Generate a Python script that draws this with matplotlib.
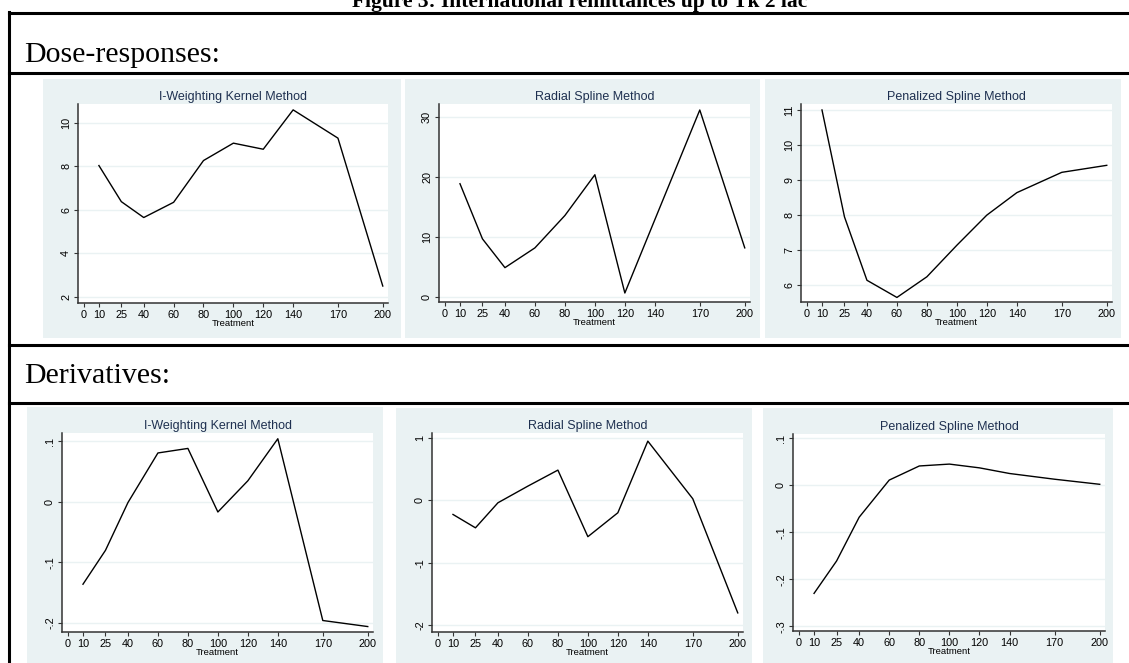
import matplotlib
matplotlib.use("Agg")
import matplotlib.pyplot as plt
from matplotlib.lines import Line2D
from matplotlib.patches import Rectangle
from matplotlib.ticker import FuncFormatter

plt.rcParams["font.family"] = ["Liberation Sans", "DejaVu Sans"]

W, H = 1129, 663

# treatment levels (x axis of every panel)
treatment = [10, 25, 40, 60, 80, 100, 120, 140, 170, 200]
xticks = [0, 10, 25, 40, 60, 80, 100, 120, 140, 170, 200]

# dose-responses
dose_kernel = [8.04, 6.38, 5.65, 6.35, 8.27, 9.07, 8.79, 10.6, 9.30, 2.5]
dose_radial = [18.9, 9.7, 4.9, 8.2, 13.6, 20.4, 0.67, 12.9, 31.2, 8.2]
dose_penal = [11.0, 7.95, 6.14, 5.65, 6.24, 7.14, 8.0, 8.64, 9.22, 9.42]

# derivatives
der_kernel = [-0.136, -0.080, -0.001, 0.081, 0.0885, -0.0166, 0.035, 0.1045, -0.196, -0.206]
der_radial = [-0.224, -0.438, -0.037, 0.23, 0.486, -0.58, -0.197, 0.95, 0.027, -1.80]
der_penal = [-0.23, -0.161, -0.068, 0.011, 0.041, 0.045, 0.037, 0.025, 0.0128, 0.002]

yticks_dk = [2, 4, 6, 8, 10]
yticks_dr = [0, 10, 20, 30]
yticks_dp = [6, 7, 8, 9, 10, 11]
yticks_gk = [-0.2, -0.1, 0, 0.1]
yticks_gr = [-2, -1, 0, 1]
yticks_gp = [-0.3, -0.2, -0.1, 0, 0.1]

titles = ["I-Weighting Kernel Method", "Radial Spline Method", "Penalized Spline Method"]

BG = "#eaf2f3"
TITLE_C = "#1e3050"


def stata_fmt(v, pos):
    # stata style: .1 instead of 0.1
    s = ("%g" % round(v, 4))
    s = s.replace("0.", ".")
    return s


fig = plt.figure(figsize=(W / 100, H / 100), dpi=100)


def fx(x):
    return x / W


def fy(y):
    return 1 - y / H


def hline(y, x0=9, x1=W):
    fig.add_artist(Line2D([fx(x0), fx(x1)], [fy(y), fy(y)], color="black", lw=2.2,
                          transform=fig.transFigure))


def panel(box, plot, ys, yticks, ylim, title):
    # gray graph region
    gx0, gy0, gx1, gy1 = box
    fig.add_artist(Rectangle((fx(gx0), fy(gy1)), fx(gx1 - gx0), (gy1 - gy0) / H,
                             facecolor=BG, edgecolor="none", transform=fig.transFigure,
                             zorder=0))
    x0, y0, x1, y1 = plot
    ax = fig.add_axes([fx(x0), fy(y1), fx(x1 - x0), (y1 - y0) / H])
    ax.set_facecolor("white")
    ax.plot(treatment, ys, color="black", lw=1.0)
    ax.set_xticks(xticks)
    ax.set_yticks(yticks)
    ax.yaxis.set_major_formatter(FuncFormatter(stata_fmt))
    ax.set_xlim(-4, 203.5)
    ax.set_ylim(*ylim)
    ax.grid(axis="y", color=BG, lw=1.0)
    ax.set_axisbelow(True)
    for s in ["top", "right"]:
        ax.spines[s].set_visible(False)
    for s in ["left", "bottom"]:
        ax.spines[s].set_color("#333333")
        ax.spines[s].set_linewidth(1.1)
    ax.tick_params(axis="both", direction="out", length=3, width=0.8, color="#333333",
                   labelsize=7.8, pad=2.0)
    for lab in ax.get_yticklabels():
        lab.set_rotation(90)
        lab.set_va("center")
    ax.set_xlabel("Treatment", fontsize=6.8, labelpad=-1.0)
    ax.set_title(title, fontsize=9, color=TITLE_C, pad=3)
    return ax


# page frame lines
hline(13)
hline(73)
hline(345)
hline(403)
fig.add_artist(Line2D([fx(9), fx(9)], [fy(12), fy(H)], color="black", lw=2.2,
                      transform=fig.transFigure))

fig.text(fx(580), fy(7), "Figure 3: International remittances up to Tk 2 lac",
         ha="center", va="baseline", fontsize=15.5, fontweight="bold",
         family="Liberation Serif")
fig.text(fx(24), fy(62), "Dose-responses:", ha="left", va="baseline",
         fontsize=21.5, family="Liberation Serif")
fig.text(fx(24), fy(383), "Derivatives:", ha="left", va="baseline",
         fontsize=21.5, family="Liberation Serif")

panel((43, 79, 401, 338), (78, 104, 388, 303), dose_kernel, yticks_dk, (1.72, 10.87), titles[0])
panel((405, 79, 760, 338), (439, 104, 750, 302), dose_radial, yticks_dr, (-0.83, 32.2), titles[1])
panel((765, 79, 1121, 338), (801, 104, 1112, 302), dose_penal, yticks_dp, (5.52, 11.17), titles[2])

panel((27, 407, 383, H), (62, 433, 373, 632), der_kernel, yticks_gk, (-0.215, 0.114), titles[0])
panel((396, 408, 752, H), (432, 433, 743, 632), der_radial, yticks_gr, (-2.106, 1.08), titles[1])
panel((763, 408, 1113, H), (793, 434, 1105, 631), der_penal, yticks_gp, (-0.31, 0.109), titles[2])

fig.savefig("out.png", dpi=100)
